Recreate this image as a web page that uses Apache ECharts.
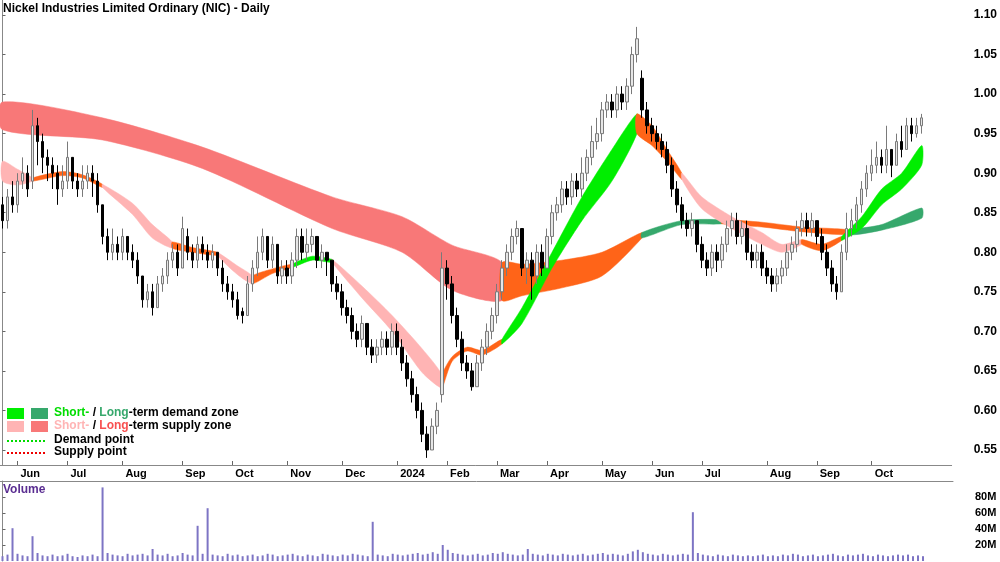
<!DOCTYPE html>
<html>
<head>
<meta charset="utf-8">
<script src="https://cdn.jsdelivr.net/npm/echarts@6/dist/echarts.min.js"></script>
<style>html,body{margin:0;padding:0;background:#fff}#chart{width:1000px;height:562px}</style>
</head>
<body>
<div id="chart"></div>
<script>
// NIC daily, one candle per two trading days: [open, close, low, high]
const ohlc = [
  [0.86,0.84,0.83,0.87],[0.84,0.87,0.83,0.88],[0.87,0.86,0.85,0.89],[0.86,0.89,0.85,0.90],[0.89,0.90,0.88,0.92],
  [0.90,0.88,0.87,0.91],[0.89,0.96,0.88,0.98],[0.96,0.94,0.91,0.97],[0.94,0.92,0.90,0.95],[0.92,0.91,0.89,0.93],
  [0.91,0.90,0.88,0.92],[0.90,0.88,0.86,0.91],[0.88,0.89,0.87,0.91],[0.89,0.92,0.88,0.94],[0.92,0.89,0.88,0.92],
  [0.89,0.88,0.87,0.90],[0.88,0.89,0.87,0.91],[0.89,0.90,0.88,0.91],[0.90,0.89,0.87,0.91],[0.89,0.86,0.85,0.90],
  [0.86,0.82,0.81,0.86],[0.82,0.80,0.79,0.83],[0.80,0.81,0.79,0.83],[0.81,0.80,0.79,0.82],[0.80,0.82,0.79,0.83],
  [0.82,0.80,0.79,0.82],[0.80,0.79,0.78,0.81],[0.79,0.77,0.76,0.80],[0.77,0.74,0.73,0.77],[0.74,0.75,0.73,0.76],
  [0.75,0.73,0.72,0.76],[0.73,0.76,0.73,0.77],[0.76,0.77,0.75,0.78],[0.77,0.79,0.76,0.80],[0.79,0.80,0.78,0.81],
  [0.80,0.78,0.77,0.81],[0.78,0.83,0.78,0.845],[0.82,0.80,0.79,0.83],[0.80,0.79,0.78,0.81],[0.79,0.81,0.78,0.82],
  [0.81,0.80,0.79,0.82],[0.80,0.79,0.78,0.81],[0.79,0.80,0.78,0.81],[0.80,0.78,0.77,0.80],[0.78,0.76,0.75,0.79],
  [0.76,0.75,0.74,0.77],[0.75,0.74,0.73,0.76],[0.74,0.72,0.715,0.75],[0.725,0.72,0.71,0.73],[0.72,0.76,0.72,0.77],
  [0.76,0.78,0.75,0.79],[0.78,0.80,0.77,0.82],[0.80,0.82,0.79,0.83],[0.82,0.79,0.78,0.82],[0.79,0.81,0.78,0.82],
  [0.81,0.77,0.76,0.81],[0.77,0.78,0.76,0.79],[0.78,0.77,0.76,0.79],[0.77,0.79,0.76,0.80],[0.79,0.82,0.78,0.83],
  [0.82,0.80,0.79,0.83],[0.80,0.81,0.79,0.83],[0.81,0.82,0.80,0.83],[0.82,0.79,0.78,0.82],[0.79,0.80,0.78,0.81],
  [0.80,0.79,0.77,0.80],[0.79,0.76,0.75,0.79],[0.76,0.75,0.74,0.77],[0.75,0.73,0.72,0.76],[0.73,0.72,0.71,0.74],
  [0.72,0.70,0.69,0.73],[0.70,0.69,0.68,0.71],[0.69,0.71,0.68,0.72],[0.71,0.68,0.67,0.71],[0.68,0.67,0.66,0.69],
  [0.67,0.68,0.66,0.69],[0.68,0.69,0.67,0.70],[0.69,0.68,0.67,0.70],[0.68,0.70,0.67,0.71],[0.70,0.68,0.67,0.71],
  [0.68,0.66,0.65,0.69],[0.66,0.64,0.63,0.67],[0.64,0.62,0.61,0.65],[0.62,0.60,0.59,0.63],[0.60,0.57,0.56,0.61],
  [0.57,0.55,0.54,0.58],[0.55,0.58,0.55,0.59],[0.58,0.60,0.57,0.61],[0.62,0.78,0.61,0.80],[0.78,0.76,0.74,0.79],
  [0.76,0.72,0.71,0.77],[0.72,0.69,0.68,0.73],[0.69,0.66,0.65,0.70],[0.66,0.65,0.64,0.67],[0.65,0.63,0.625,0.66],
  [0.63,0.66,0.63,0.67],[0.66,0.68,0.65,0.69],[0.68,0.70,0.67,0.71],[0.70,0.72,0.69,0.73],[0.72,0.75,0.71,0.76],
  [0.75,0.78,0.74,0.79],[0.78,0.80,0.77,0.81],[0.80,0.82,0.79,0.83],[0.82,0.83,0.81,0.84],[0.83,0.78,0.77,0.83],
  [0.78,0.79,0.76,0.80],[0.79,0.77,0.74,0.80],[0.77,0.80,0.76,0.81],[0.80,0.78,0.77,0.81],[0.78,0.82,0.78,0.83],
  [0.82,0.85,0.81,0.86],[0.85,0.86,0.84,0.87],[0.86,0.88,0.85,0.89],[0.88,0.87,0.86,0.89],[0.87,0.89,0.86,0.90],
  [0.89,0.88,0.87,0.90],[0.88,0.90,0.87,0.92],[0.90,0.92,0.89,0.93],[0.92,0.94,0.91,0.96],[0.94,0.95,0.93,0.97],
  [0.95,0.98,0.94,0.99],[0.98,0.99,0.97,1.00],[0.99,0.98,0.97,1.00],[0.98,1.00,0.97,1.01],[1.00,0.99,0.98,1.01],
  [0.99,1.01,0.98,1.02],[1.01,1.05,1.00,1.06],[1.05,1.07,1.04,1.085],[1.02,0.98,0.97,1.03],[0.98,0.96,0.95,0.99],
  [0.96,0.95,0.94,0.97],[0.95,0.94,0.93,0.96],[0.94,0.93,0.92,0.95],[0.93,0.91,0.90,0.94],[0.91,0.88,0.87,0.92],
  [0.88,0.86,0.85,0.89],[0.86,0.84,0.83,0.87],[0.84,0.83,0.82,0.85],[0.83,0.84,0.82,0.85],[0.84,0.81,0.80,0.84],
  [0.81,0.79,0.78,0.82],[0.79,0.78,0.77,0.80],[0.78,0.80,0.77,0.81],[0.80,0.79,0.775,0.81],[0.79,0.81,0.78,0.82],
  [0.81,0.83,0.80,0.84],[0.83,0.84,0.82,0.85],[0.84,0.82,0.81,0.85],[0.82,0.83,0.81,0.84],[0.83,0.80,0.79,0.84],
  [0.80,0.79,0.78,0.81],[0.79,0.80,0.78,0.81],[0.80,0.78,0.77,0.81],[0.78,0.77,0.76,0.79],[0.77,0.76,0.75,0.78],
  [0.76,0.77,0.75,0.78],[0.77,0.78,0.76,0.79],[0.78,0.80,0.77,0.81],[0.80,0.81,0.79,0.82],[0.81,0.83,0.80,0.84],
  [0.83,0.84,0.82,0.85],[0.84,0.83,0.82,0.85],[0.83,0.84,0.82,0.85],[0.84,0.82,0.81,0.84],[0.82,0.80,0.79,0.83],
  [0.80,0.78,0.77,0.81],[0.78,0.76,0.75,0.79],[0.76,0.75,0.74,0.77],[0.75,0.80,0.75,0.81],[0.80,0.83,0.79,0.85],
  [0.83,0.84,0.82,0.855],[0.84,0.86,0.83,0.87],[0.86,0.88,0.85,0.89],[0.88,0.90,0.87,0.91],[0.90,0.91,0.89,0.93],
  [0.91,0.92,0.90,0.94],[0.92,0.91,0.90,0.93],[0.91,0.93,0.90,0.96],[0.93,0.91,0.895,0.93],[0.91,0.94,0.91,0.95],
  [0.94,0.93,0.92,0.96],[0.93,0.96,0.93,0.97],[0.96,0.95,0.94,0.97],[0.95,0.96,0.945,0.97],[0.96,0.97,0.95,0.975]
];

// volume in millions, one per candle
const volume = [
  6,8,41,9,7,6,31,10,7,6, 8,6,7,9,6,5,7,6,8,6,
  92,10,8,7,6,9,7,8,9,7, 15,8,7,9,6,7,10,8,7,44,
  9,66,8,7,6,9,7,8,6,7, 8,6,7,9,8,6,7,8,9,7,
  6,8,7,6,9,8,7,6,8,7, 9,8,7,6,49,8,7,6,9,8,
  7,8,9,10,8,9,11,9,20,14, 10,9,8,7,8,9,7,8,10,9,
  11,9,8,7,8,15,9,8,7,9, 8,7,9,8,7,8,9,7,8,9,
  10,8,9,8,7,9,12,14,11,9, 8,7,9,8,7,8,9,8,61,10,
  8,7,6,8,7,6,8,7,6,7, 6,7,8,6,7,6,8,7,9,8,
  6,7,8,6,7,8,9,7,6,8, 7,8,9,7,6,8,7,6,7,8,
  7,8,6,7,6
];

// month start positions (candle index) and labels
const monthIdx = [3,13,24,36,46,57,68,79,89,99,109,120,130,140,153,163,174];
const monthLbl = ['Jun','Jul','Aug','Sep','Oct','Nov','Dec','2024','Feb','Mar','Apr','May','Jun','Jul','Aug','Sep','Oct'];
const priceTicks = [0.55,0.60,0.65,0.70,0.75,0.80,0.85,0.90,0.95,1.00,1.05,1.10];

// zone bands: [candle index, low edge, high edge], split where the colour changes
const longSupply = [[0,0.955,0.99],[20,0.942,0.970],[40,0.906,0.933],[66,0.83,0.87],[80,0.80,0.845],[90,0.752,0.809],[100,0.739,0.787]];
const longMixed1 = [[100,0.739,0.787],[104,0.745,0.785],[112,0.755,0.79],[120,0.77,0.80],[128,0.818,0.825]];
const longDemand1 = [[128,0.818,0.825],[136,0.835,0.84],[144,0.836,0.841]];
const longMixed2 = [[144,0.836,0.841],[152,0.832,0.838],[160,0.826,0.832],[170,0.822,0.828]];
const longDemand2 = [[170,0.822,0.828],[176,0.828,0.835],[184,0.843,0.856]];

const shortSupply1 = [[0,0.89,0.915],[3,0.885,0.905],[6,0.89,0.894]];
const shortMixed1 = [[6,0.89,0.894],[12,0.897,0.902],[16,0.894,0.898],[20,0.882,0.886]];
const shortSupply2 = [[20,0.882,0.886],[26,0.848,0.862],[30,0.818,0.835],[34,0.805,0.813]];
const shortMixed2 = [[34,0.805,0.813],[38,0.80,0.806],[43,0.796,0.80]];
const shortSupply3 = [[43,0.796,0.80],[47,0.772,0.783],[50,0.76,0.77]];
const shortMixed3 = [[50,0.76,0.77],[54,0.773,0.779],[58,0.781,0.785]];
const shortDemand1 = [[58,0.781,0.785],[62,0.79,0.795],[66,0.787,0.791]];
const shortSupply4 = [[66,0.787,0.791],[72,0.742,0.757],[78,0.70,0.72],[84,0.648,0.678],[88,0.628,0.645]];
const shortMixed4 = [[88,0.628,0.645],[90,0.662,0.668],[93,0.675,0.68],[96,0.67,0.676],[100,0.684,0.69]];
const shortDemand2 = [[100,0.684,0.69],[104,0.71,0.73],[110,0.78,0.80],[116,0.84,0.87],[122,0.89,0.93],[127,0.95,0.975]];
const shortMixed5 = [[127,0.95,0.975],[130,0.935,0.96],[133,0.915,0.93],[136,0.892,0.90]];
const shortSupply5 = [[136,0.892,0.90],[140,0.855,0.87],[146,0.83,0.845],[152,0.81,0.825],[156,0.80,0.81],[160,0.81,0.816]];
const shortMixed6 = [[160,0.81,0.816],[164,0.802,0.81],[168,0.815,0.82]];
const shortDemand3 = [[168,0.815,0.82],[172,0.83,0.845],[176,0.86,0.88],[180,0.88,0.90],[184,0.91,0.935]];

const C_LONG_SUP = '#f87878', C_SHORT_SUP = '#ffb4b4', C_MIX = '#ff6418',
      C_SHORT_DEM = '#00ee00', C_LONG_DEM = '#36a86c';

// one filled ribbon between the low and high edges
function band(pts, color) {
  return {
    type: 'custom', xAxisIndex: 0, yAxisIndex: 0, silent: true, z: 1,
    data: pts.map(p => [p[0], p[1], p[2]]),
    renderItem: (params, api) => {
      if (params.dataIndex !== 0) return null;
      const top = pts.map(p => api.coord([p[0], p[2]]));
      const bot = pts.map(p => api.coord([p[0], p[1]])).reverse();
      return {
        type: 'polygon',
        shape: { points: top.concat(bot), smooth: 0.25 },
        style: { fill: color, stroke: color, lineWidth: 0.5 }
      };
    }
  };
}

const bands = [
  band(longSupply, C_LONG_SUP), band(longMixed1, C_MIX), band(longDemand1, C_LONG_DEM),
  band(longMixed2, C_MIX), band(longDemand2, C_LONG_DEM),
  band(shortSupply1, C_SHORT_SUP), band(shortMixed1, C_MIX), band(shortSupply2, C_SHORT_SUP),
  band(shortMixed2, C_MIX), band(shortSupply3, C_SHORT_SUP), band(shortMixed3, C_MIX),
  band(shortDemand1, C_SHORT_DEM), band(shortSupply4, C_SHORT_SUP), band(shortMixed4, C_MIX),
  band(shortDemand2, C_SHORT_DEM), band(shortMixed5, C_MIX), band(shortSupply5, C_SHORT_SUP),
  band(shortMixed6, C_MIX), band(shortDemand3, C_SHORT_DEM)
];

const FONT = 'Liberation Sans';
const BF = 'bold 12px "Liberation Sans"';
const chart = echarts.init(document.getElementById('chart'));

chart.setOption({
  animation: false,
  backgroundColor: '#fff',
  textStyle: { fontFamily: FONT },
  grid: [
    { left: 0, right: 47, top: 0, bottom: 97 },
    { left: 0, right: 47, top: 481, bottom: 1 }
  ],
  xAxis: [
    {
      type: 'value', gridIndex: 0, min: -0.5, max: 190,
      axisLine: { show: true, onZero: false, lineStyle: { color: '#888' } },
      axisTick: { show: true, customValues: monthIdx, length: 4, inside: true, lineStyle: { color: '#666' } },
      axisLabel: {
        customValues: monthIdx, align: 'left', margin: 3, padding: [0, 0, 0, 3],
        color: '#000', fontSize: 11, fontWeight: 'bold', fontFamily: FONT,
        formatter: v => monthLbl[monthIdx.indexOf(Math.round(v))] || ''
      },
      splitLine: { show: false }
    },
    {
      type: 'value', gridIndex: 1, min: -0.5, max: 190, position: 'top',
      axisLine: { show: true, onZero: false, lineStyle: { color: '#888' } },
      axisTick: { show: false }, axisLabel: { show: false }, splitLine: { show: false }
    }
  ],
  yAxis: [
    {
      type: 'value', gridIndex: 0, position: 'right', min: 0.531, max: 1.119, scale: true,
      axisLine: { show: true, lineStyle: { color: '#888' } },
      axisTick: { show: true, customValues: priceTicks, length: 3, lineStyle: { color: '#666' } },
      axisLabel: {
        customValues: priceTicks, margin: 22, color: '#000', fontSize: 12, fontWeight: 'bold',
        fontFamily: FONT, formatter: v => v.toFixed(2)
      },
      splitLine: { show: false }
    },
    {
      type: 'value', gridIndex: 1, position: 'right', min: 0, max: 100,
      axisLine: { show: true, lineStyle: { color: '#888' } },
      axisTick: { show: true, customValues: [20, 40, 60, 80], length: 3, lineStyle: { color: '#666' } },
      axisLabel: {
        customValues: [20, 40, 60, 80], margin: 22, color: '#000', fontSize: 11, fontWeight: 'bold',
        fontFamily: FONT, formatter: v => v + 'M'
      },
      splitLine: { show: false }
    }
  ],
  series: bands.concat([
    {
      type: 'candlestick', xAxisIndex: 0, yAxisIndex: 0, barWidth: 3, z: 5,
      data: ohlc.map((r, i) => [i, r[0], r[1], r[2], r[3]]),
      encode: { x: 0, y: [1, 2, 3, 4] },
      itemStyle: { color: '#e6e6e6', color0: '#000', borderColor: '#7a7a7a', borderColor0: '#000', borderWidth: 1 }
    },
    {
      type: 'bar', xAxisIndex: 1, yAxisIndex: 1, barWidth: 2,
      data: volume.map((v, i) => [i, v]),
      itemStyle: { color: '#7d74c4' }
    }
  ]),
  graphic: { elements: [
    { type: 'text', x: 3, y: 3, z: 100, style: { text: 'Nickel Industries Limited Ordinary (NIC) - Daily', font: BF, fill: '#000' } },
    { type: 'rect', z: 100, shape: { x: 7, y: 408, width: 17, height: 11 }, style: { fill: C_SHORT_DEM } },
    { type: 'rect', z: 100, shape: { x: 31, y: 408, width: 17, height: 11 }, style: { fill: C_LONG_DEM } },
    { type: 'rect', z: 100, shape: { x: 7, y: 421, width: 17, height: 11 }, style: { fill: C_SHORT_SUP } },
    { type: 'rect', z: 100, shape: { x: 31, y: 421, width: 17, height: 11 }, style: { fill: C_LONG_SUP } },
    { type: 'text', x: 54, y: 407, z: 100, style: { text: '{g|Short-} / {d|Long}-term demand zone', font: BF, fill: '#000',
      rich: { g: { fill: '#00dd00', font: BF }, d: { fill: C_LONG_DEM, font: BF } } } },
    { type: 'text', x: 54, y: 420, z: 100, style: { text: '{p|Short-} / {r|Long}-term supply zone', font: BF, fill: '#000',
      rich: { p: { fill: C_SHORT_SUP, font: BF }, r: { fill: '#f85050', font: BF } } } },
    { type: 'line', z: 100, shape: { x1: 7, y1: 441, x2: 47, y2: 441 }, style: { stroke: '#00dd00', lineWidth: 2, lineDash: [2, 2] } },
    { type: 'line', z: 100, shape: { x1: 7, y1: 453, x2: 47, y2: 453 }, style: { stroke: '#ee0000', lineWidth: 2, lineDash: [2, 2] } },
    { type: 'text', x: 54, y: 434, z: 100, style: { text: 'Demand point', font: BF, fill: '#000' } },
    { type: 'text', x: 54, y: 446, z: 100, style: { text: 'Supply point', font: BF, fill: '#000' } },
    { type: 'text', x: 3, y: 484, z: 100, style: { text: 'Volume', font: BF, fill: '#5a2d91' } }
  ] }
});
</script>
</body>
</html>
